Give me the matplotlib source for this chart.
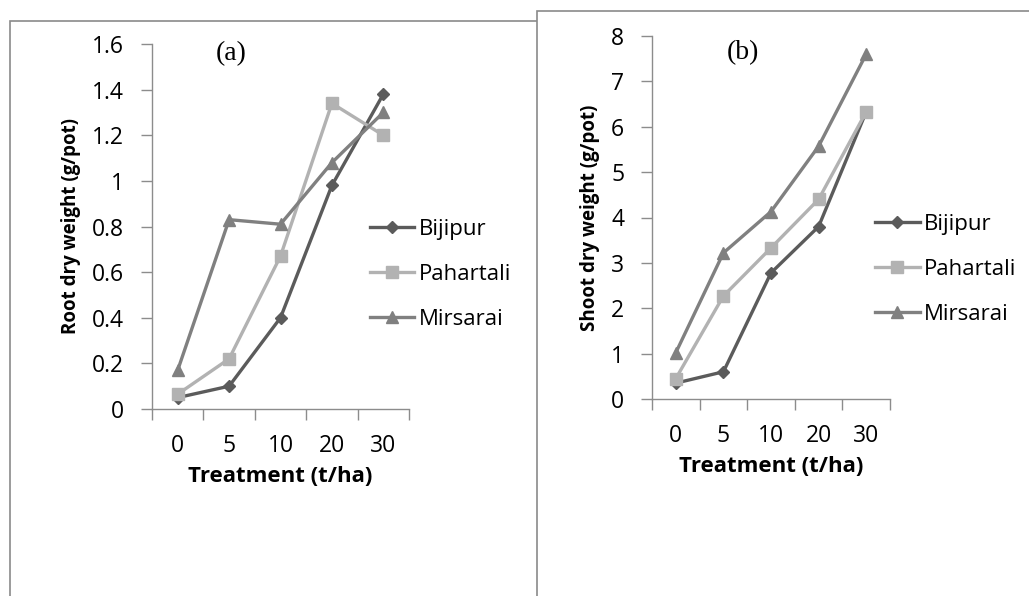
import numpy as np
import matplotlib
matplotlib.use("Agg")
import matplotlib.pyplot as plt
from matplotlib.patches import Rectangle

# ── data ─────────────────────────────────────────────────────────
treatments = ["0", "5", "10", "20", "30"]
series_names = ["Bijipur", "Pahartali", "Mirsarai"]

root_bijipur   = [0.05, 0.10, 0.40, 0.98, 1.38]
root_pahartali = [0.065, 0.22, 0.67, 1.34, 1.20]
root_mirsarai  = [0.17, 0.83, 0.81, 1.08, 1.30]

shoot_bijipur   = [0.35, 0.60, 2.78, 3.80, 6.33]
shoot_pahartali = [0.45, 2.27, 3.33, 4.40, 6.33]
shoot_mirsarai  = [1.02, 3.22, 4.13, 5.57, 7.60]

# ── style ────────────────────────────────────────────────────────
colors  = ["#5b5b5b", "#b2b2b2", "#808080"]
markers = ["D", "s", "^"]
msizes  = [6, 8, 9]
axcol   = "#8c8c8c"
plt.rcParams["font.family"] = ["Open Sans", "DejaVu Sans"]

fig = plt.figure(figsize=(10.29, 5.96), dpi=100)
W, H = 1029, 596

# panel frames (left one partly covered by right one)
fig.patches.append(Rectangle((10/W, -0.1), 560/W, 1.1 - 20.7/H, transform=fig.transFigure,
                             fill=False, ec="#8a8a8a", lw=1.2, zorder=0))
fig.patches.append(Rectangle((537/W, -0.1), 0.6, 1.1 - 10.7/H, transform=fig.transFigure,
                             fc="white", ec="#8a8a8a", lw=1.2, zorder=1))


def panel(rect, vals, ymax, ystep, ylabel, tag, tagx, tagy, leg_xy, yfmt):
    ax = fig.add_axes(rect, zorder=2)
    ax.patch.set_alpha(0)
    x = np.arange(len(treatments))
    for v, c, m, ms, nm in zip(vals, colors, markers, msizes, series_names):
        ax.plot(x, v, color=c, marker=m, ms=ms, mec=c, mfc=c, lw=2.4,
                label=nm, clip_on=False)
    ax.set_xlim(-0.5, len(treatments) - 0.5)
    ax.set_ylim(0, ymax)
    yt = np.arange(0, ymax + ystep/2, ystep)
    ax.set_yticks(yt)
    ax.set_yticklabels([yfmt(t) for t in yt])
    ax.set_xticks(x)
    ax.set_xticklabels(treatments)
    ax.set_xticks(np.arange(-0.5, len(treatments)), minor=True)
    ax.tick_params(axis="x", which="major", length=0, pad=18, labelsize=16.5)
    ax.tick_params(axis="x", which="minor", length=8, color=axcol, width=1)
    ax.tick_params(axis="y", length=8, color=axcol, width=1, labelsize=16.5, pad=12)
    for s in ["top", "right"]:
        ax.spines[s].set_visible(False)
    for s in ["left", "bottom"]:
        ax.spines[s].set_color(axcol)
        ax.spines[s].set_linewidth(1)
    ax.set_xlabel("Treatment (t/ha)", fontsize=16, fontweight="bold", labelpad=6)
    ax.set_ylabel(ylabel, fontsize=13.5, fontweight="bold", labelpad=8)
    ax.text(tagx, tagy, tag, transform=ax.transAxes, fontsize=20,
            family="Liberation Serif", ha="center", va="center")
    ax.legend(loc="upper left", bbox_to_anchor=leg_xy, frameon=False, fontsize=16,
              handlelength=2.0, handletextpad=0.2, labelspacing=1.08, borderaxespad=0)
    return ax


def fmt_root(t):
    s = f"{t:.1f}"
    return s.rstrip("0").rstrip(".") if s.endswith(".0") else s


panel([152/W, 1 - 409/H, 257/W, 365/H],
      [root_bijipur, root_pahartali, root_mirsarai], 1.6, 0.2,
      "Root dry weight (g/pot)", "(a)", 0.31, 0.975, (0.812, 0.545), fmt_root)

panel([652/W, 1 - 399/H, 238/W, 363/H],
      [shoot_bijipur, shoot_pahartali, shoot_mirsarai], 8, 1,
      "Shoot dry weight (g/pot)", "(b)", 0.38, 0.955, (0.9, 0.535), lambda t: f"{t:g}")

fig.savefig("out.png", dpi=100)
